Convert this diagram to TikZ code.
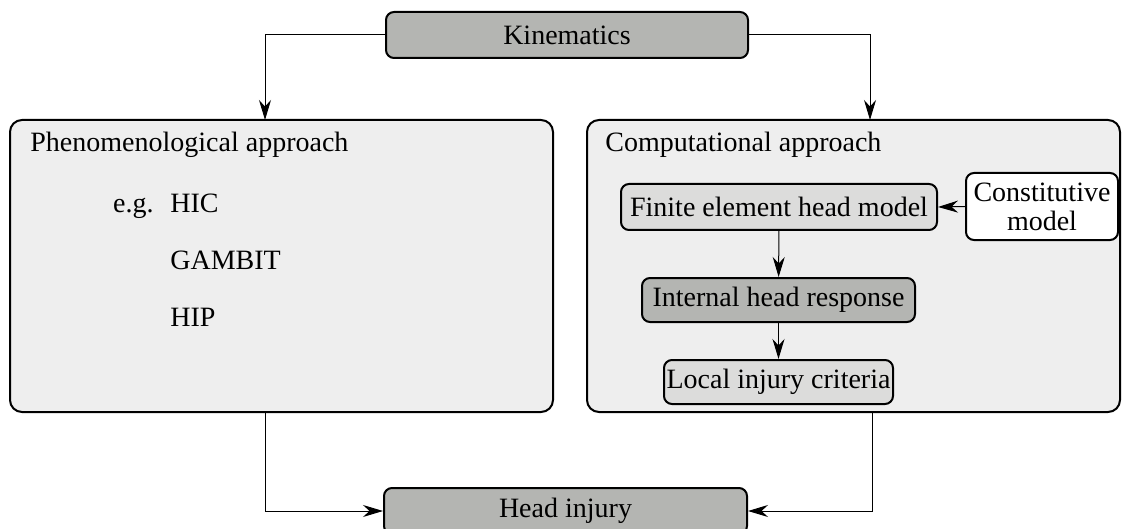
\documentclass[tikz,border=0pt]{standalone}
\usepackage{fontspec}
\setmainfont{Liberation Serif}
\usetikzlibrary{arrows.meta,positioning}
\definecolor{boxdark}{HTML}{B4B5B2}
\definecolor{boxlight}{HTML}{DCDCDB}
\definecolor{panel}{HTML}{EEEEEE}

\begin{document}
\begin{tikzpicture}[x=0.5pt,y=-0.5pt]
		\tikzset{every node/.style={font=\fontsize{14}{12}\selectfont}}
		\tikzset{box/.style={draw,line width=1pt,rounded corners=4pt,inner sep=0pt,align=center}}
		\tikzset{panelbox/.style={draw,line width=1pt,rounded corners=6pt,fill=panel,inner sep=0pt}}
		\tikzset{label/.style={inner sep=0pt}}
		\tikzset{arr/.style={line width=0.5pt,-{Stealth[length=10pt,width=6pt]}}}
		\useasboundingbox (0,0) rectangle (1123,529);
		\node [panelbox, minimum width=271.5pt, minimum height=146pt] (phen) at (281.5,266) {};
		\node [panelbox, minimum width=266.5pt, minimum height=146pt] (comp) at (853.5,266) {};
		\node [box, fill=boxdark, minimum width=181pt, minimum height=23pt] (kin) at (567,35) {Kinematics};
		\node [box, fill=boxdark, minimum width=181.5pt, minimum height=23pt] (hi) at (565.5,511) {Head injury};
		\node [label, anchor=base west] (phentxt) at (30,152) {Phenomenological approach};
		\node [label, anchor=base east] (eg) at (154,213) {e.g.};
		\node [label, anchor=base west] (hic) at (170,213) {HIC};
		\node [label, anchor=base west] (gambit) at (170,270) {GAMBIT};
		\node [label, anchor=base west] (hip) at (170,326) {HIP};
		\node [label, anchor=base west] (comptxt) at (605,152) {Computational approach};
		\node [box, fill=boxlight, minimum width=158pt, minimum height=23pt] (fe) at (779,207) {Finite element head model};
		\node [box, fill=white, minimum width=76pt, minimum height=33.5pt, font=\fontsize{14}{14.5}\selectfont] (cm) at (1042,206.5) {Constitutive\\model};
		\node [box, fill=boxdark, minimum width=136.5pt, minimum height=22pt] (ihr) at (778.5,300) {Internal head response};
		\node [box, fill=boxlight, minimum width=114.5pt, minimum height=22pt] (lic) at (778.5,382) {Local injury criteria};
		\coordinate (phenin) at (265,120);
		\coordinate (compin) at (870,120);
		\coordinate (phenout) at (265,412);
		\coordinate (compout) at (872,412);
		\draw [arr] (kin.west) -| (phenin);
		\draw [arr] (kin.east) -| (compin);
		\draw [arr] (cm.west) -- (fe.east);
		\draw [arr] (fe) -- (ihr);
		\draw [arr] (ihr) -- (lic);
		\draw [arr] (phenout) |- (hi.west);
		\draw [arr] (compout) |- (hi.east);
\end{tikzpicture}
\end{document}
